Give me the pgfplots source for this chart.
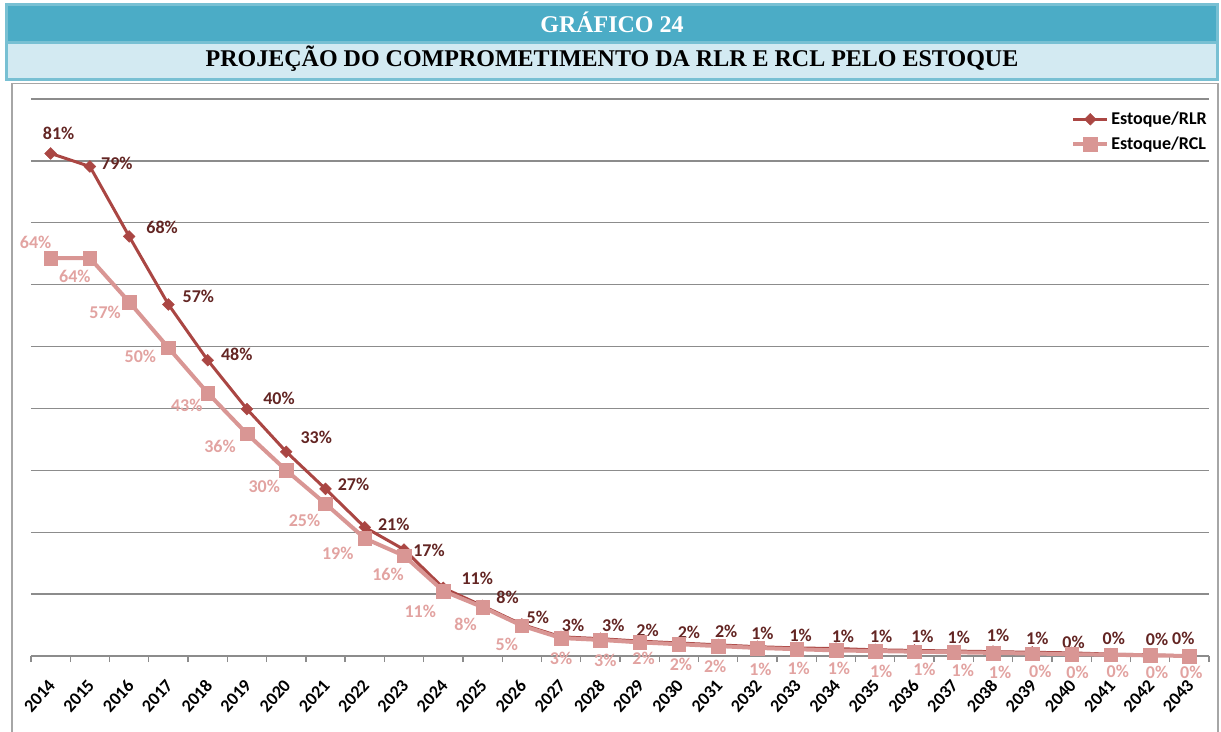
\documentclass[border=0pt]{standalone}
\usepackage{pgfplots}
\pgfplotsset{compat=1.18}
\usepackage{pgfplotstable}
\usepackage{fontspec}
\setmainfont{Carlito}
\newfontfamily\titlefont{Liberation Serif}

\definecolor{outerc}{HTML}{78C0D3}
\definecolor{darkc}{HTML}{4BACC6}
\definecolor{lightc}{HTML}{D3EAF2}
\definecolor{boxgray}{HTML}{A6A6A6}
\definecolor{gridgray}{HTML}{8C8C8C}
\definecolor{rlrc}{HTML}{AA4643}
\definecolor{rclc}{HTML}{D99694}
\definecolor{rlrlab}{HTML}{632523}
\definecolor{rcllab}{HTML}{E2A3A1}

\pgfplotstableread{
x y lab dx dy
0 81.2 81 8 20
1 79.1 79 27 3
2 67.8 68 33 9
3 56.8 57 30 8
4 47.8 48 29 6
5 39.9 40 32 11
6 33.0 33 30 14
7 27.0 27 28 5
8 20.8 21 29 3
9 17.2 17 25 -1
10 11.0 11 34 10
11 8.1 8 25 9
12 5.1 5 16 7
13 3.1 3 12 11
14 2.8 3 13 13
15 2.4 2 8 11
16 2.1 2 10 11
17 1.8 2 8 13
18 1.5 1 5 13
19 1.3 1 4 13
20 1.2 1 7 12
21 1.0 1 6 13
22 0.9 1 8 14
23 0.8 1 5 14
24 0.7 1 5 16
25 0.6 1 5 14
26 0.5 0 2 11
27 0.3 0 3 16
28 0.2 0 7 15
29 0.0 0 -6 18
}\rlr

\pgfplotstableread{
x y lab dx dy
0 64.3 64 -15 16
1 64.3 64 -15 -18
2 57.2 57 -24 -10
3 49.8 50 -28 -9
4 42.5 43 -21 -12
5 35.9 36 -27 -13
6 30.0 30 -22 -16
7 24.6 25 -21 -17
8 19.0 19 -27 -15
9 16.2 16 -16 -19
10 10.5 11 -23 -20
11 7.9 8 -17 -17
12 4.9 5 -15 -19
13 2.9 3 0 -20
14 2.6 3 5 -20
15 2.2 2 4 -16
16 1.9 2 2 -20
17 1.6 2 -3 -20
18 1.3 1 3 -21
19 1.1 1 2 -19
20 0.9 1 3 -18
21 0.8 1 6 -20
22 0.7 1 10 -18
23 0.6 1 9 -18
24 0.5 1 7 -19
25 0.4 0 8 -18
26 0.3 0 6 -18
27 0.2 0 7 -17
28 0.1 0 7 -17
29 0.0 0 2 -16
}\rcl

\begin{document}
\begin{tikzpicture}[x=1pt,y=1pt]
\useasboundingbox (0,0) rectangle (1221,731);
% header
\fill[outerc] (5,728) rectangle (1219,650);
\fill[darkc] (8,725) rectangle (1216,690);
\fill[lightc] (8,687) rectangle (1216,653);
\node[text=white, font=\titlefont\bfseries\fontsize{24}{26}\selectfont] at (612,709) {GRÁFICO 24};
\node[text=black, font=\titlefont\bfseries\fontsize{24}{26}\selectfont] at (612,672) {PROJEÇÃO DO COMPROMETIMENTO DA RLR E RCL PELO ESTOQUE};
% chart box
\draw[boxgray, line width=1.5pt] (11.75,-10) -- (11.75,647.25) -- (1217.75,647.25) -- (1217.75,-10);

\begin{axis}[
  at={(31pt,75pt)}, anchor=south west,
  width=1178pt, height=557pt, scale only axis,
  xmin=-0.5, xmax=29.5, ymin=0, ymax=90,
  axis line style={draw=none},
  ytick={0,10,...,90}, yticklabels={}, ytick style={draw=none},
  ymajorgrids, grid style={gridgray, line width=1.3pt},
  xtick={-0.5,0.5,...,29.5}, xticklabels={},
  xtick pos=left, tick align=outside,
  xtick style={gridgray, line width=1.3pt}, major tick length=6pt,
  extra x ticks={0,1,...,29},
  extra x tick labels={2014,2015,2016,2017,2018,2019,2020,2021,2022,2023,2024,2025,2026,2027,2028,2029,2030,2031,2032,2033,2034,2035,2036,2037,2038,2039,2040,2041,2042,2043},
  extra x tick style={major tick length=0pt, grid=none},
  xticklabel style={font=\bfseries\fontsize{18}{18}\selectfont, rotate=48, anchor=north east, inner sep=0pt, xshift=-18.7pt, yshift=-12.2pt},
  clip=false,
  legend style={draw=none, fill=none, at={(1,1)}, anchor=north east, yshift=-11pt, xshift=0pt,
    font=\bfseries\fontsize{18}{20}\selectfont, row sep=7pt, inner sep=0pt},
  legend cell align=left,
  legend image code/.code={\draw[#1, mark repeat=2, mark phase=2] plot coordinates {(0pt,0pt) (17pt,0pt) (34pt,0pt)};},
  nodes near coords={\pgfplotspointmeta\%},
  point meta=explicit symbolic,
  visualization depends on={\thisrow{dx}\as\dx},
  visualization depends on={\thisrow{dy}\as\dy},
  every node near coord/.append style={anchor=center, inner sep=0pt, xshift=\dx, yshift=\dy,
    font=\bfseries\fontsize{18}{18}\selectfont},
]
\addplot[rlrc, line width=3pt, mark=square*, mark size=4.2pt,
  mark options={rotate=45, solid, fill=rlrc, draw=rlrc, line width=0.4pt},
  nodes near coords style={text=rlrlab}]
  table[x=x, y=y, meta=lab] {\rlr};
\addlegendentry{Estoque/RLR}
\addplot[rclc, line width=4pt, mark=square*, mark size=6.8pt,
  mark options={solid, fill=rclc, draw=rclc, line width=0.4pt},
  nodes near coords style={text=rcllab}]
  table[x=x, y=y, meta=lab] {\rcl};
\addlegendentry{Estoque/RCL}
\end{axis}
\end{tikzpicture}
\end{document}
